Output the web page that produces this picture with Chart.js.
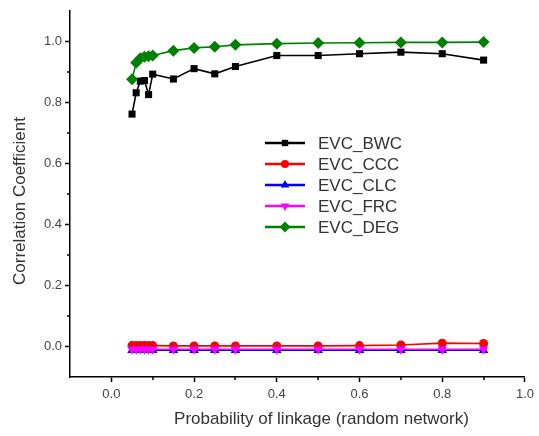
<!DOCTYPE html>
<html>
<head>
<meta charset="utf-8">
<script src="https://cdn.jsdelivr.net/npm/chart.js@4.4.1/dist/chart.umd.min.js"></script>
<style>
  html, body { margin: 0; padding: 0; background: #fff; }
  #wrap { width: 539px; height: 436px; }
</style>
</head>
<body>
<div id="wrap"><canvas id="chart"></canvas></div>
<script>
// probability of linkage (x) and correlation values per centrality pair
const probs = [0.05, 0.06, 0.07, 0.08, 0.09, 0.1, 0.15, 0.2, 0.25, 0.3, 0.4, 0.5, 0.6, 0.7, 0.8, 0.9];
const evcBwc = [0.762, 0.832, 0.870, 0.872, 0.826, 0.893, 0.877, 0.911, 0.894, 0.918, 0.954, 0.954, 0.960, 0.965, 0.960, 0.939];
const evcCcc = [0.003, 0.003, 0.003, 0.003, 0.003, 0.003, 0.002, 0.002, 0.002, 0.002, 0.002, 0.002, 0.003, 0.005, 0.011, 0.010];
const evcClc = [-0.012, -0.012, -0.012, -0.012, -0.012, -0.012, -0.012, -0.012, -0.012, -0.012, -0.012, -0.012, -0.012, -0.012, -0.012, -0.012];
const evcFrc = [-0.009, -0.009, -0.009, -0.009, -0.009, -0.009, -0.009, -0.009, -0.009, -0.009, -0.009, -0.009, -0.009, -0.009, -0.009, -0.009];
const evcDeg = [0.876, 0.930, 0.945, 0.950, 0.952, 0.954, 0.970, 0.979, 0.983, 0.989, 0.993, 0.995, 0.996, 0.997, 0.997, 0.998];

const xTicks = [0, 0.2, 0.4, 0.6, 0.8, 1.0];
const yTicks = [0, 0.2, 0.4, 0.6, 0.8, 1.0];
const xTitle = 'Probability of linkage (random network)';
const yTitle = 'Correlation Coefficient';

const FONT = '"Liberation Sans", Arial, sans-serif';

function pts(ys) {
  return probs.map((x, i) => ({ x: x, y: ys[i] }));
}

function series(label, ys, color, style, radius, rotation, order) {
  return {
    label: label,
    data: pts(ys),
    showLine: true,
    borderColor: color,
    backgroundColor: color,
    borderWidth: 1.6,
    pointStyle: style,
    pointRadius: radius,
    pointRotation: rotation,
    pointBorderWidth: 0,
    order: order
  };
}

const datasets = [
  series('EVC_BWC', evcBwc, '#000000', 'rect', 5, 0, 5),
  series('EVC_CCC', evcCcc, '#ff0000', 'circle', 4.5, 0, 4),
  series('EVC_CLC', evcClc, '#0000ff', 'triangle', 5.5, 0, 3),
  series('EVC_FRC', evcFrc, '#ff00ff', 'triangle', 5.5, 180, 2),
  series('EVC_DEG', evcDeg, '#008000', 'rectRot', 6, 0, 1)
];

// minor ticks half way between major ones, like the original plot
const minorTicks = {
  id: 'minorTicks',
  afterDraw(chart) {
    const ctx = chart.ctx;
    const xs = chart.scales.x, ys = chart.scales.y;
    ctx.save();
    ctx.strokeStyle = '#000';
    ctx.lineWidth = 1.5;
    for (let v = 0.1; v < 1.0; v += 0.2) {
      const px = Math.round(xs.getPixelForValue(v));
      ctx.beginPath();
      ctx.moveTo(px, xs.top);
      ctx.lineTo(px, xs.top + 3);
      ctx.stroke();
      const py = Math.round(ys.getPixelForValue(v));
      ctx.beginPath();
      ctx.moveTo(ys.right, py);
      ctx.lineTo(ys.right - 3, py);
      ctx.stroke();
    }
    ctx.restore();
  }
};

// axis titles, placed a little off-centre as in the original figure
const axisTitles = {
  id: 'axisTitles',
  afterDraw(chart) {
    const ctx = chart.ctx;
    const area = chart.chartArea;
    ctx.save();
    ctx.fillStyle = '#333';
    ctx.font = '17px ' + FONT;
    ctx.textAlign = 'center';
    ctx.textBaseline = 'middle';
    ctx.fillText(xTitle, (area.left + area.right) / 2 + 24, chart.height - 17);
    ctx.translate(20, (area.top + area.bottom) / 2 + 7);
    ctx.rotate(-Math.PI / 2);
    ctx.fillText(yTitle, 0, 0);
    ctx.restore();
  }
};

// legend drawn inside the plot area
const innerLegend = {
  id: 'innerLegend',
  afterDraw(chart) {
    const ctx = chart.ctx;
    const x0 = 265, y0 = 143, rowH = 21;
    ctx.save();
    ctx.font = '17px ' + FONT;
    ctx.textBaseline = 'middle';
    chart.data.datasets.forEach((ds, i) => {
      const y = y0 + i * rowH;
      ctx.strokeStyle = ds.borderColor;
      ctx.lineWidth = 2.5;
      ctx.beginPath();
      ctx.moveTo(x0, y);
      ctx.lineTo(x0 + 40, y);
      ctx.stroke();
      ctx.fillStyle = ds.backgroundColor;
      Chart.helpers.drawPoint(ctx, {
        pointStyle: ds.pointStyle,
        radius: ds.pointRadius - 0.5,
        rotation: ds.pointRotation,
        borderWidth: 0
      }, x0 + 20, y);
      ctx.fillStyle = '#333';
      ctx.fillText(ds.label, x0 + 53, y + 1);
    });
    ctx.restore();
  }
};

new Chart(document.getElementById('chart'), {
  type: 'scatter',
  data: { datasets: datasets },
  plugins: [minorTicks, axisTitles, innerLegend],
  options: {
    responsive: true,
    maintainAspectRatio: false,
    animation: false,
    layout: { padding: { left: 0, right: 14, top: 11, bottom: 0 } },
    plugins: {
      legend: { display: false },
      tooltip: { enabled: false }
    },
    scales: {
      x: {
        type: 'linear',
        min: -0.1,
        max: 1.0,
        afterBuildTicks: s => { s.ticks = xTicks.map(v => ({ value: v })); },
        afterFit: s => { s.height = 59; },
        grid: { drawOnChartArea: false, tickLength: 5, tickColor: '#000', tickWidth: 1.5 },
        border: { color: '#000', width: 1.5 },
        ticks: {
          color: '#444',
          font: { family: FONT, size: 13 },
          padding: 5,
          callback: v => v.toFixed(1)
        }
      },
      y: {
        type: 'linear',
        min: -0.1,
        max: 1.1,
        afterBuildTicks: s => { s.ticks = yTicks.map(v => ({ value: v })); },
        afterFit: s => { s.width = 70; },
        grid: { drawOnChartArea: false, tickLength: 5, tickColor: '#000', tickWidth: 1.5 },
        border: { color: '#000', width: 1.5 },
        ticks: {
          color: '#444',
          font: { family: FONT, size: 13 },
          padding: 3,
          callback: v => v.toFixed(1)
        }
      }
    }
  }
});
</script>
</body>
</html>
